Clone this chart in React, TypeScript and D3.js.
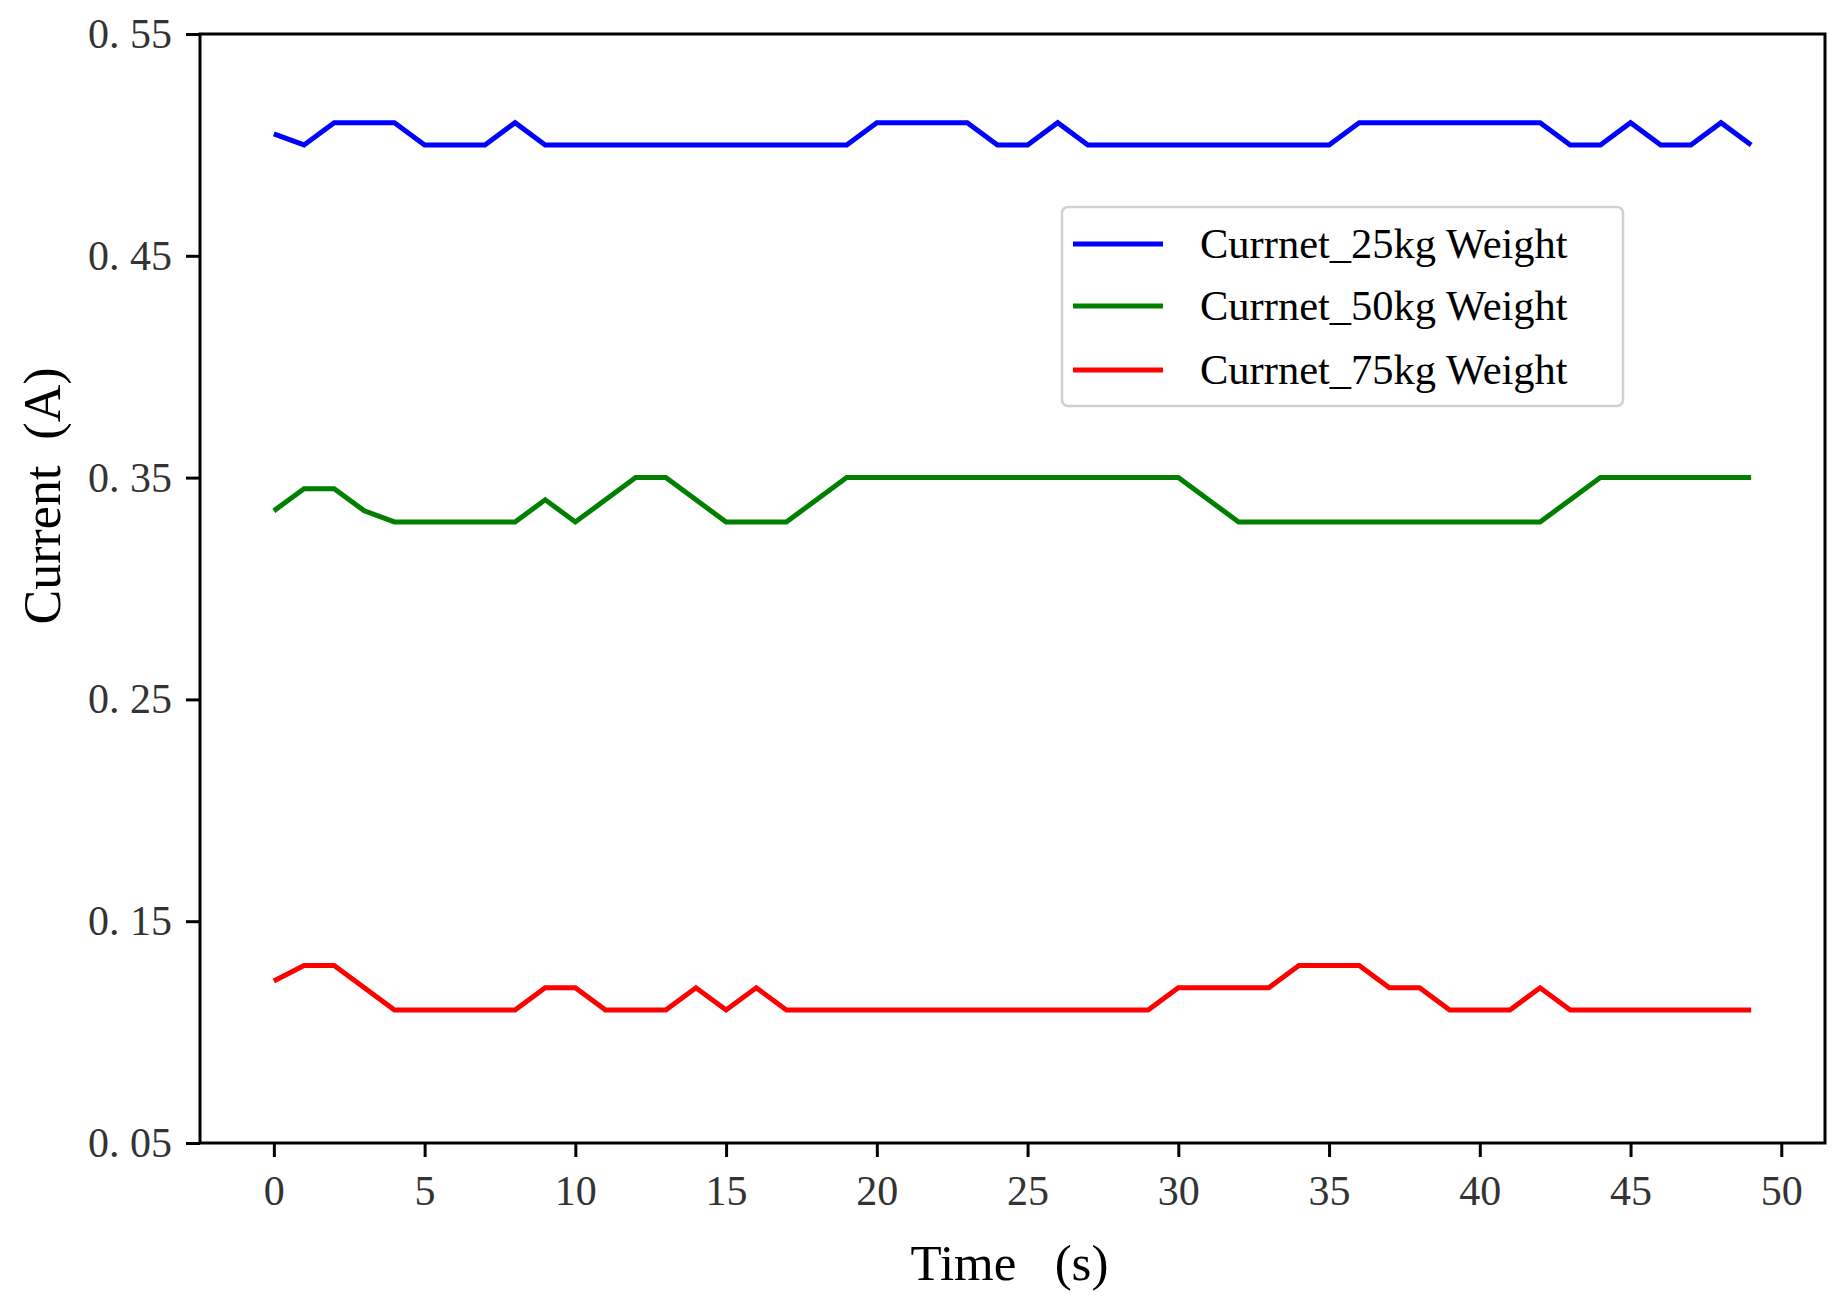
import { useEffect, useRef } from 'react';
import * as d3 from 'd3';

const time = [
  0, 1, 2, 3, 4, 5, 6, 7, 8, 9, 10, 11, 12, 13, 14, 15, 16, 17, 18, 19, 20, 21, 22, 23, 24,
  25, 26, 27, 28, 29, 30, 31, 32, 33, 34, 35, 36, 37, 38, 39, 40, 41, 42, 43, 44, 45, 46, 47, 48, 49,
];

const current25 = [
  0.505, 0.5, 0.51, 0.51, 0.51, 0.5, 0.5, 0.5, 0.51, 0.5,
  0.5, 0.5, 0.5, 0.5, 0.5, 0.5, 0.5, 0.5, 0.5, 0.5,
  0.51, 0.51, 0.51, 0.51, 0.5, 0.5, 0.51, 0.5, 0.5, 0.5,
  0.5, 0.5, 0.5, 0.5, 0.5, 0.5, 0.51, 0.51, 0.51, 0.51,
  0.51, 0.51, 0.51, 0.5, 0.5, 0.51, 0.5, 0.5, 0.51, 0.5,
];

const current50 = [
  0.335, 0.345, 0.345, 0.335, 0.33, 0.33, 0.33, 0.33, 0.33, 0.34,
  0.33, 0.34, 0.35, 0.35, 0.34, 0.33, 0.33, 0.33, 0.34, 0.35,
  0.35, 0.35, 0.35, 0.35, 0.35, 0.35, 0.35, 0.35, 0.35, 0.35,
  0.35, 0.34, 0.33, 0.33, 0.33, 0.33, 0.33, 0.33, 0.33, 0.33,
  0.33, 0.33, 0.33, 0.34, 0.35, 0.35, 0.35, 0.35, 0.35, 0.35,
];

const current75 = [
  0.123, 0.13, 0.13, 0.12, 0.11, 0.11, 0.11, 0.11, 0.11, 0.12,
  0.12, 0.11, 0.11, 0.11, 0.12, 0.11, 0.12, 0.11, 0.11, 0.11,
  0.11, 0.11, 0.11, 0.11, 0.11, 0.11, 0.11, 0.11, 0.11, 0.11,
  0.12, 0.12, 0.12, 0.12, 0.13, 0.13, 0.13, 0.12, 0.12, 0.11,
  0.11, 0.11, 0.12, 0.11, 0.11, 0.11, 0.11, 0.11, 0.11, 0.11,
];

const xTicks = [0, 5, 10, 15, 20, 25, 30, 35, 40, 45, 50];
const yTicks = [0.05, 0.15, 0.25, 0.35, 0.45, 0.55];

const seriesNames = ['Currnet_25kg Weight', 'Currnet_50kg Weight', 'Currnet_75kg Weight'];
const seriesColors = ['#0000ff', '#008000', '#ff0000'];

const W = 1846;
const H = 1305;

export default function App() {
  const svgRef = useRef<SVGSVGElement>(null);

  useEffect(() => {
    if (!svgRef.current) return;
    const margin = { top: 34, right: 21, bottom: 162, left: 200 };
    const width = W - margin.left - margin.right;
    const height = H - margin.top - margin.bottom;

    d3.select(svgRef.current).selectAll('*').remove();

    const svg = d3
      .select(svgRef.current)
      .append('g')
      .attr('transform', `translate(${margin.left},${margin.top})`);

    // matplotlib style margins: 5% of data span each side
    const xScale = d3.scaleLinear().domain([-2.45, 51.45]).range([0, width]);
    const yScale = d3.scaleLinear().domain([0.05, 0.55]).range([height, 0]);

    const allSeries = [current25, current50, current75];
    const line = d3
      .line<number>()
      .x((_, i) => xScale(time[i]))
      .y((d) => yScale(d));

    allSeries.forEach((vals, k) => {
      svg
        .append('path')
        .datum(vals)
        .attr('d', line)
        .attr('fill', 'none')
        .attr('stroke', seriesColors[k])
        .attr('stroke-width', 5)
        .attr('stroke-linejoin', 'miter');
    });

    // axes
    const xAxis = svg
      .append('g')
      .attr('transform', `translate(0,${height})`)
      .call(d3.axisBottom(xScale).tickValues(xTicks).tickSize(14).tickPadding(18).tickFormat((d) => String(d)));
    const yAxis = svg
      .append('g')
      .call(
        d3
          .axisLeft(yScale)
          .tickValues(yTicks)
          .tickSize(14)
          .tickPadding(14)
          .tickFormat((d) => Number(d).toFixed(2).replace('.', '. '))
      );

    [xAxis, yAxis].forEach((ax) => {
      ax.select('.domain').remove();
      ax.selectAll('.tick line').attr('stroke', '#000').attr('stroke-width', 3);
      ax.selectAll('.tick text')
        .attr('fill', '#333')
        .style('font-family', '"Liberation Serif", "DejaVu Serif", serif')
        .style('font-size', '42px')
        .style('white-space', 'pre');
    });

    // frame
    svg
      .append('rect')
      .attr('x', 0)
      .attr('y', 0)
      .attr('width', width)
      .attr('height', height)
      .attr('fill', 'none')
      .attr('stroke', '#000')
      .attr('stroke-width', 3);

    // axis labels
    svg
      .append('text')
      .attr('x', width / 2 - 3)
      .attr('y', height + 137)
      .attr('text-anchor', 'middle')
      .style('font-family', '"Liberation Serif", serif')
      .style('font-size', '51px')
      .style('white-space', 'pre')
      .text('Time   (s)');

    svg
      .append('text')
      .attr('transform', `translate(${60 - margin.left},${496 - margin.top}) rotate(-90)`)
      .attr('text-anchor', 'middle')
      .style('font-family', '"Liberation Serif", serif')
      .style('font-size', '52px')
      .style('white-space', 'pre')
      .text('Current  (A)');

    // legend
    const legend = svg.append('g').attr('transform', `translate(${1062 - margin.left},${207 - margin.top})`);
    legend
      .append('rect')
      .attr('width', 561)
      .attr('height', 199)
      .attr('rx', 6)
      .attr('fill', '#fff')
      .attr('stroke', '#d0d0d0')
      .attr('stroke-width', 2.5);

    const rowY = [37, 99, 163];
    seriesNames.forEach((name, k) => {
      const g = legend.append('g').attr('transform', `translate(0,${rowY[k]})`);
      g.append('line')
        .attr('x1', 11)
        .attr('x2', 101)
        .attr('stroke', seriesColors[k])
        .attr('stroke-width', 5);
      g.append('text')
        .attr('x', 138)
        .attr('y', 14)
        .style('font-family', '"Liberation Serif", serif')
        .style('font-size', '42.5px')
        .text(name);
    });
  }, []);

  return (
    <div style={{ width: W, height: H, background: '#fff' }}>
      <style>{`body{margin:0}`}</style>
      <svg ref={svgRef} width={W} height={H} style={{ display: 'block' }} />
    </div>
  );
}
